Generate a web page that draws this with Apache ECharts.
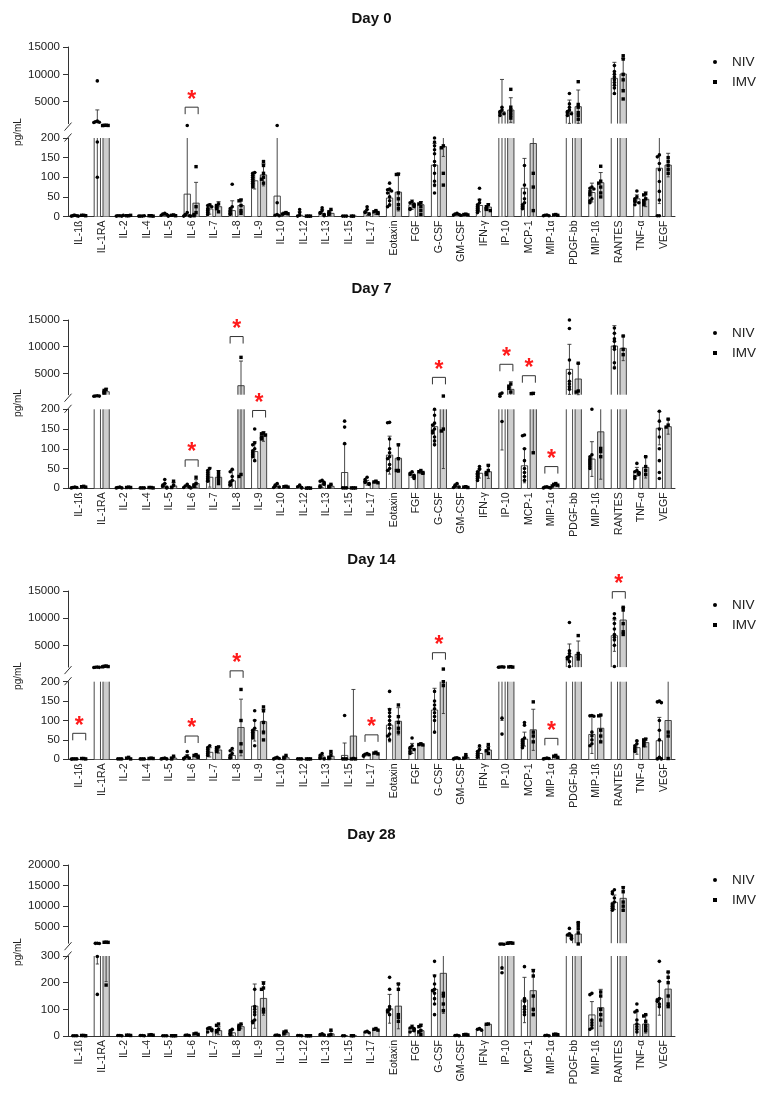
<!DOCTYPE html>
<html><head><meta charset="utf-8">
<script src="https://cdn.jsdelivr.net/npm/echarts@6/dist/echarts.min.js"></script>
<style>html,body{margin:0;padding:0;background:#fff}#c{width:775px;height:1095px}</style>
</head><body><div id="c"></div>
<script>
// ---------------- DATA ----------------
const categories = ['IL-1ß','IL-1RA','IL-2','IL-4','IL-5','IL-6','IL-7','IL-8','IL-9','IL-10','IL-12','IL-13','IL-15','IL-17','Eotaxin','FGF','G-CSF','GM-CSF','IFN-γ','IP-10','MCP-1','MIP-1α','PDGF-bb','MIP-1ß','RANTES','TNF-α','VEGF'];
const groups = ['NIV','IMV'];
const panelTitles = ['Day 0','Day 7','Day 14','Day 28'];
const yAxisName = 'pg/mL';
const breakStart = 1000;
const upperTicks = [[5000,10000,15000],[5000,10000,15000],[5000,10000,15000],[5000,10000,15000,20000]];
const lowerTicks = [[0,50,100,150,200],[0,50,100,150,200],[0,50,100,150,200],[0,100,200,300]];

// Day 0
const d0NivMean = [2,1000,2,1,4,57,19,15,91,52,3,8,1,10,47,30,131,5,28,3170,72,3,3170,61,9270,45,123];
const d0NivSD   = [1,2500,1,0.5,3,200,13,25,21,200,9,10,0.5,8,21,12,55,2,16,5900,76,1,2130,24,2930,10,90];
const d0NivPts  = [[3,2,2,1,1,3],[8800,1450,1350,1250,1200,190,100],[2,2,1,1,3],[1,1,2,1],[8,6,5,3,2,1],[650,10,5,3,2,1,1],[30,28,25,20,15,10,5],[82,25,20,15,12,8,5],[112,110,105,100,95,90,85,80,75],[650,35,5,3,2],[18,10,3,1],[22,15,10,8,5,2],[1,1,1],[25,18,12,10,6],[85,70,68,65,60,50,40,30,25],[38,35,32,30,28,25,20,18],[200,190,180,170,160,140,130,110,90,80,60],[8,6,5,4,3],[72,42,35,30,25,20,15,10],[4000,3500,3200,3000,2800,2500],[130,80,60,45,35,30,25,20],[4,3,2,2],[6500,4600,4000,3500,3200,3000,2800,2500],[75,72,70,65,60,55,45,40,35],[11600,10500,10000,9500,9000,8500,8000,7500,6500],[65,50,45,40,38,35,30],[157,152,135,119,89,64,42,2,2]];
const d0ImvMean = [3,650,2,2,3,34,25,28,106,8,1,8,1,10,62,30,178,5,24,3480,186,4,4090,86,10070,44,131];
const d0ImvSD   = [1,60,1,1,2,53,13,16,28,3,0.5,8,0.5,5,48,8,25,2,8,2250,250,1,3050,26,2830,19,30];
const d0ImvPts  = [[3,3,2],[700,680,660,640],[2,2,3],[2,2,1],[4,3,2],[127,25,10,5,2],[32,28,25,20,12],[42,40,28,15,8],[140,130,110,100,95,85],[10,8,7,6],[1,1,1],[18,12,8,5],[1,1],[15,12,10,8],[108,107,60,45,30,20],[35,32,25,15,5],[180,175,110,80],[6,5,4],[30,25,20,18,15],[7260,4000,3500,3000,2500,2000],[110,75,15],[5,4,3],[8660,4500,4000,3000,2500,1800],[128,90,85,75,60,50],[13400,12800,10000,9000,7000,5500],[58,55,45,40,35,30],[150,140,130,120,110]];

// Day 7
const d7NivMean = [2,750,2,1,6,4,28,19,93,5,3,10,40,14,84,34,156,5,38,480,57,2,5750,74,10125,42,152];
const d7NivSD   = [1,80,1,0.5,6,4,25,27,25,5,3,8,72,6,48,6,42,4,12,383,43,1,4690,44,3815,11,42];
const d7NivPts  = [[3,2,2,1],[800,760,740,720],[3,2,1,1],[1,1,1],[22,12,8,5,2,1],[10,6,4,3,2,1],[50,45,40,35,30,25,20,18],[48,42,30,20,15,10,8],[150,115,110,100,95,90,85,80,70],[12,8,5,3,2],[8,4,2,1],[20,18,15,12,10,5,3],[170,155,113,1,1,1],[28,22,18,15,12,10],[167,166,125,100,90,80,75,60,50,45],[42,38,35,33,30,28,25],[200,185,165,160,150,145,140,130,120,110],[12,8,5,3,2],[55,48,42,38,35,30,25,20],[1300,1100,700,169],[135,133,100,70,50,40,30,20],[4,3,2,1,1],[15000,13400,7500,5000,3500,3000,2500,2000],[200,85,80,75,70,65,60,55,50],[13500,12500,11500,11000,10000,9500,7000,6000],[63,45,42,40,38,35,30,25],[195,170,150,130,100,70,40,25]];
const d7ImvMean = [4,1560,2,2,6,12,28,2690,131,4,0.5,5,1,16,76,40,350,3,42,2000,750,8,3940,143,9690,53,156];
const d7ImvSD   = [1,630,1,1,9,10,17,4620,12,2,0.3,4,0.5,3,36,3,300,2,17,1430,660,3,2940,120,2310,27,19];
const d7ImvPts  = [[5,4,3],[2000,1800,1500,1300],[3,2,2],[2,2,1],[18,8,2],[28,12,8,5],[42,35,28,20,12],[8000,35,30],[140,138,135,130,125],[5,4,3],[1,0.5,0.5],[10,5,3],[1,1,1],[18,16,14],[110,75,45,45],[45,42,40,38],[750,150,145],[4,3,2],[58,45,40,35],[3000,2600,2200,1500],[1250,1200,90],[12,10,8,6],[6900,1700,1500],[101,93,80],[12000,9500,8500],[80,55,45,35],[175,160,155]];

// Day 14
const d14NivMean = [1,950,1,1,2,5,18,10,74,3,1,6,10,12,88,28,127,3,15,600,52,2,2910,64,6780,30,48];
const d14NivSD   = [0.5,60,0.5,0.5,1.5,7,12,12,27,2,0.5,4,32,3,43,13,56,2,16,500,18,1,2340,49,2880,17,60];
const d14NivPts  = [[1,1,1,0.5],[1000,970,950,930],[1,1,1],[1,1,1],[3,2,1,1],[20,8,5,3,2,1],[35,30,25,20,15,10],[28,22,15,10,5,3],[125,100,80,75,70,65,60,55,35],[5,3,2,1],[1,1,1],[15,10,5,2,1],[113,1,1,1],[15,13,12,10,8],[175,128,120,110,100,90,80,65,60,50],[55,35,30,28,25,20,15],[175,150,140,130,120,110,100,70],[4,3,2,1],[35,25,20,15,10,5],[1050,1020,1000,980,106,65],[95,88,55,50,45,40,35,30],[3,2,2,1],[9200,4000,3500,3000,2800,2500,2000,1100],[113,112,111,70,60,50,40,35],[10800,10000,9000,8000,7000,6500,6000,5000,1100],[48,40,35,30,25,20],[150,148,146,100,75,50,5,1,1]];
const d14ImvMean = [2,1100,2,2,3,8,24,82,97,4,1,8,60,15,98,39,330,5,24,1000,76,6,3340,80,9660,43,100];
const d14ImvSD   = [0.5,80,1,1,3,4,8,73,32,4,0.5,7,120,2,35,2,212,4,9,60,53,3,2460,34,2330,11,120];
const d14ImvPts  = [[2,2,1],[1200,1150,1100,1050],[5,3,1],[3,2,2],[8,3,1],[12,10,8,5],[32,30,25,20],[180,100,40,20],[135,125,95,70,50],[10,5,2],[1,1,1],[20,10,5,2],[2,1,1],[18,16,14],[140,110,95,80,70],[40,38,37],[640,200,190],[12,5,3],[38,28,22,15],[1080,1030,1000],[148,70,60,45],[10,8,5],[6800,3500,3000,2500],[114,112,75,60,45],[12000,11500,9000,7500,7000],[52,50,45,40,35],[70,60,2]];

// Day 28
const d28NivMean = [1,600,2,2,1,3,29,12,112,3,2,5,1,15,102,29,175,2,25,550,135,2,3000,79,10935,44,141];
const d28NivSD   = [0.5,330,1,1,0.5,1,6,10,83,1,1,3,0.5,3,54,12,54,1,2,300,85,1,400,50,1765,47,63];
const d28NivPts  = [[1,1,1],[1000,960,930,298,156],[2,2,1],[2,2,1],[1,1,1],[4,3,2],[30,28,25,20,15],[25,20,15,10,5],[175,110,100,90,80,60,55,50],[4,3,2],[2,2,1],[8,5,4],[1,1],[18,15,12],[220,175,110,100,95,90,80],[35,30,28,25,20,15],[280,225,195,175,170,160,140,120,80],[3,2,1],[28,25,22],[800,780,760,256,237],[260,140,130,110,100,90,80],[3,2,1],[4600,3300,3000,2800,2500,2200,2000],[160,155,60,50,40,30,25],[14000,13500,13000,12000,11000,10500,10000,9500,9000],[120,95,90,60,45,35,25,15],[280,205,140,135,130,120,110]];
const d28ImvMean = [2,800,3,4,1,8,20,35,141,12,1,8,1,25,112,20,235,5,44,1030,170,6,3240,106,11900,45,176];
const d28ImvSD   = [1,596,1,1,0.5,2,15,8,63,5,0.5,10,0.5,3,85,24,150,2,1,60,80,2,2760,69,2800,34,63];
const d28ImvPts  = [[2,2,1],[1250,1220,1200,191],[3,3,2],[5,4,3],[1,1,1],[10,8,6],[45,40,25,20,15],[45,40,35,30,25],[198,180,175,100,90],[18,15,8],[1,1,1],[22,5,2],[1,1],[28,25,22],[195,175,80,70,55],[40,35,20,15,5],[160,150,120,95],[6,5,4],[45,44],[1100,1050,1000,980],[245,225,150,100,80],[7,6,5],[6000,5300,4500,3500,810],[165,150,100,80,60],[14500,13500,11000,10000,9000],[80,75,55,40,30,20],[240,220,200,150,120,110]];

// significance brackets: [category, bracket value, segment]
const sig0  = [['IL-6',4000,'upper']];
const sig7  = [['IL-6',72,'lower'],['IL-8',11900,'upper'],['IL-9',197,'lower'],['G-CSF',4250,'upper'],['IP-10',6700,'upper'],['MCP-1',4560,'upper'],['MIP-1α',55,'lower']];
const sig14 = [['IL-1ß',67,'lower'],['IL-6',60,'lower'],['IL-8',228,'lower'],['IL-17',63,'lower'],['G-CSF',3650,'upper'],['MIP-1α',54,'lower'],['RANTES',14880,'upper']];
const sig28 = [];

// ---------------- ASSEMBLY ----------------
const panels = [
  {mean:[d0NivMean,d0ImvMean], sd:[d0NivSD,d0ImvSD], pts:[d0NivPts,d0ImvPts], sig:sig0},
  {mean:[d7NivMean,d7ImvMean], sd:[d7NivSD,d7ImvSD], pts:[d7NivPts,d7ImvPts], sig:sig7},
  {mean:[d14NivMean,d14ImvMean], sd:[d14NivSD,d14ImvSD], pts:[d14NivPts,d14ImvPts], sig:sig14},
  {mean:[d28NivMean,d28ImvMean], sd:[d28NivSD,d28ImvSD], pts:[d28NivPts,d28ImvPts], sig:sig28}
];
panels.forEach((p,i)=>{ p.upperMax = upperTicks[i][upperTicks[i].length-1]; p.lowerMax = lowerTicks[i][lowerTicks[i].length-1]; });

const LAYOUT = [
  {upTop:47,  upH:76.6, loTop:138,   loH:78.5, titleY:19,  legTop:50,  nameY:132},
  {upTop:320, upH:74.7, loTop:409.3, loH:79,   titleY:289, legTop:321, nameY:403},
  {upTop:591, upH:76.1, loTop:681.7, loH:77.6, titleY:560, legTop:593, nameY:676},
  {upTop:865, upH:78.2, loTop:956,   loH:80,   titleY:835, legTop:868, nameY:952}
];
const GL = 68, GW = 607;
const FONT = 'Liberation Sans, Arial, Helvetica, sans-serif';
const TXT = '#222', AX = '#333';
const BW = 6.3, OFF = 4.4;
const FILL = ['#ffffff','#cdcdcd'];
const JIT = [0,-2,2,-3.5,3.5,-1,1,-3,3];
const plain = v => String(v);

const grids = [], xAxes = [], yAxes = [], series = [], legends = [], graphics = [];

LAYOUT.forEach((L, pi) => {
  const P = panels[pi];
  grids.push({left:GL, width:GW, top:L.upTop, height:L.upH, outerBoundsMode:'none', containLabel:false});
  grids.push({left:GL, width:GW, top:L.loTop, height:L.loH, outerBoundsMode:'none', containLabel:false});
  const gu = pi*2, gl = pi*2+1;
  xAxes.push({type:'category', gridIndex:gu, data:categories, show:false});
  xAxes.push({type:'category', gridIndex:gl, data:categories,
    axisLine:{show:true, lineStyle:{color:AX, width:1}}, axisTick:{show:false},
    axisLabel:{interval:0, rotate:90, margin:4, fontSize:10.5, color:TXT, fontFamily:FONT}});
  yAxes.push({type:'value', gridIndex:gu, min:breakStart, max:P.upperMax, splitLine:{show:false},
    axisLine:{show:true, lineStyle:{color:AX, width:1}},
    axisTick:{show:true, length:5, customValues:upperTicks[pi], lineStyle:{color:AX}},
    axisLabel:{customValues:upperTicks[pi], formatter:plain, margin:8, fontSize:11.5, color:TXT, fontFamily:FONT}});
  const lt = lowerTicks[pi];
  yAxes.push({type:'value', gridIndex:gl, min:0, max:P.lowerMax, interval:lt[1]-lt[0], splitLine:{show:false},
    axisLine:{show:true, lineStyle:{color:AX, width:1}},
    axisTick:{show:true, length:5, lineStyle:{color:AX}},
    axisLabel:{formatter:plain, margin:8, fontSize:11.5, color:TXT, fontFamily:FONT}});

  ['upper','lower'].forEach(part => {
    const ai = part === 'upper' ? gu : gl;
    const lo = part === 'upper' ? breakStart : 0;
    const hi = part === 'upper' ? P.upperMax : P.lowerMax;
    [0,1].forEach(g => {
      const means = P.mean[g], sds = P.sd[g], pts = P.pts[g];
      series.push({
        type:'custom', name:groups[g], xAxisIndex:ai, yAxisIndex:ai, clip:false, silent:true,
        itemStyle:{color:'#000'},
        data: means.map((m,i)=>[i,m,sds[i]]),
        renderItem(params, api){
          const i = api.value(0), m = api.value(1), s = api.value(2);
          const cs = params.coordSys;
          const top = cs.y, bot = cs.y + cs.height;
          const cx = api.coord([i, lo])[0] + (g ? OFF : -OFF);
          const Y = v => api.coord([i, v])[1];
          const ch = [];
          const x0 = cx - BW/2, x1 = cx + BW/2;
          if (m > lo) {
            const over = m >= hi;
            const yt = over ? top : Y(m);
            ch.push({type:'rect', shape:{x:x0, y:yt, width:BW, height:bot-yt}, style:{fill:FILL[g]}});
            if (!over) ch.push({type:'polyline', shape:{points:[[x0,bot],[x0,yt],[x1,yt],[x1,bot]]}, style:{stroke:AX, lineWidth:0.9, fill:null}});
            else {
              ch.push({type:'line', shape:{x1:x0,y1:bot,x2:x0,y2:top}, style:{stroke:AX, lineWidth:0.9}});
              ch.push({type:'line', shape:{x1:x1,y1:bot,x2:x1,y2:top}, style:{stroke:AX, lineWidth:0.9}});
            }
          }
          const a = m - s, b = m + s;
          const va = Math.max(a, lo), vb = Math.min(b, hi);
          if (vb > va) {
            ch.push({type:'line', shape:{x1:cx,y1:Y(va),x2:cx,y2:Y(vb)}, style:{stroke:AX, lineWidth:0.9}});
            if (b <= hi) ch.push({type:'line', shape:{x1:cx-2,y1:Y(b),x2:cx+2,y2:Y(b)}, style:{stroke:AX, lineWidth:0.9}});
            if (a >= lo && a > 0) ch.push({type:'line', shape:{x1:cx-1.5,y1:Y(a),x2:cx+1.5,y2:Y(a)}, style:{stroke:AX, lineWidth:0.9}});
          }
          const vis = pts[i].filter(v => part === 'upper' ? v > P.lowerMax : v <= hi);
          const placed = [];
          vis.forEach(v => {
            const y = Y(v);
            const k = placed.filter(py => Math.abs(py - y) < 2.6).length;
            placed.push(y);
            const dx = JIT[k % JIT.length];
            if (g) ch.push({type:'rect', shape:{x:cx+dx-1.7, y:y-1.7, width:3.4, height:3.4}, style:{fill:'#000'}});
            else ch.push({type:'circle', shape:{cx:cx+dx, cy:y, r:1.8}, style:{fill:'#000'}});
          });
          return {type:'group', children:ch};
        }
      });
    });
    const list = P.sig.filter(s => s[2] === part);
    series.push({
      type:'custom', name:'sig', xAxisIndex:ai, yAxisIndex:ai, clip:false, silent:true,
      data: list.map(s => [categories.indexOf(s[0]), s[1]]),
      renderItem(params, api){
        const p = api.coord([api.value(0), api.value(1)]);
        const x = p[0], y = p[1];
        return {type:'group', children:[
          {type:'polyline', shape:{points:[[x-6.5,y+7],[x-6.5,y],[x+6.5,y],[x+6.5,y+7]]}, style:{stroke:AX, lineWidth:1, fill:null}},
          {type:'text', x:x, y:y-7, style:{text:'*', fill:'#ff1a1a', font:'bold 23px ' + FONT, align:'center', verticalAlign:'middle', textAlign:'center', textVerticalAlign:'middle'}}
        ]};
      }
    });
  });

  legends.push({show:true, left:708, top:L.legTop, orient:'vertical', itemWidth:24, itemHeight:4, itemGap:6,
    selectedMode:false, symbolKeepAspect:true,
    textStyle:{fontSize:13.5, lineHeight:14, color:TXT, fontFamily:FONT},
    data:[{name:'NIV', icon:'circle', itemStyle:{color:'#000'}}, {name:'IMV', icon:'path://M0,0L10,0L10,10L0,10Z', itemStyle:{color:'#000'}}]});

  const cxTitle = GL + GW/2;
  graphics.push({type:'text', x:cxTitle, y:L.titleY, style:{text:panelTitles[pi], font:'bold 15px ' + FONT, fill:'#111', align:'center', verticalAlign:'middle', textAlign:'center', textVerticalAlign:'middle'}});
  graphics.push({type:'text', x:18, y:L.nameY, rotation:Math.PI/2, style:{text:yAxisName, font:'10px ' + FONT, fill:TXT, align:'center', verticalAlign:'middle', textAlign:'center', textVerticalAlign:'middle'}});
  const ub = L.upTop + L.upH;
  graphics.push({type:'line', shape:{x1:GL-3.5, y1:ub+7, x2:GL+3.5, y2:ub-1}, style:{stroke:AX, lineWidth:1}});
  graphics.push({type:'line', shape:{x1:GL-3.5, y1:L.loTop+3.5, x2:GL+3.5, y2:L.loTop-4.5}, style:{stroke:AX, lineWidth:1}});
});

const chart = echarts.init(document.getElementById('c'), null, {renderer:'canvas'});
chart.setOption({
  backgroundColor:'#fff', animation:false,
  grid:grids, xAxis:xAxes, yAxis:yAxes, series:series, legend:legends, graphic:graphics
});
</script></body></html>
